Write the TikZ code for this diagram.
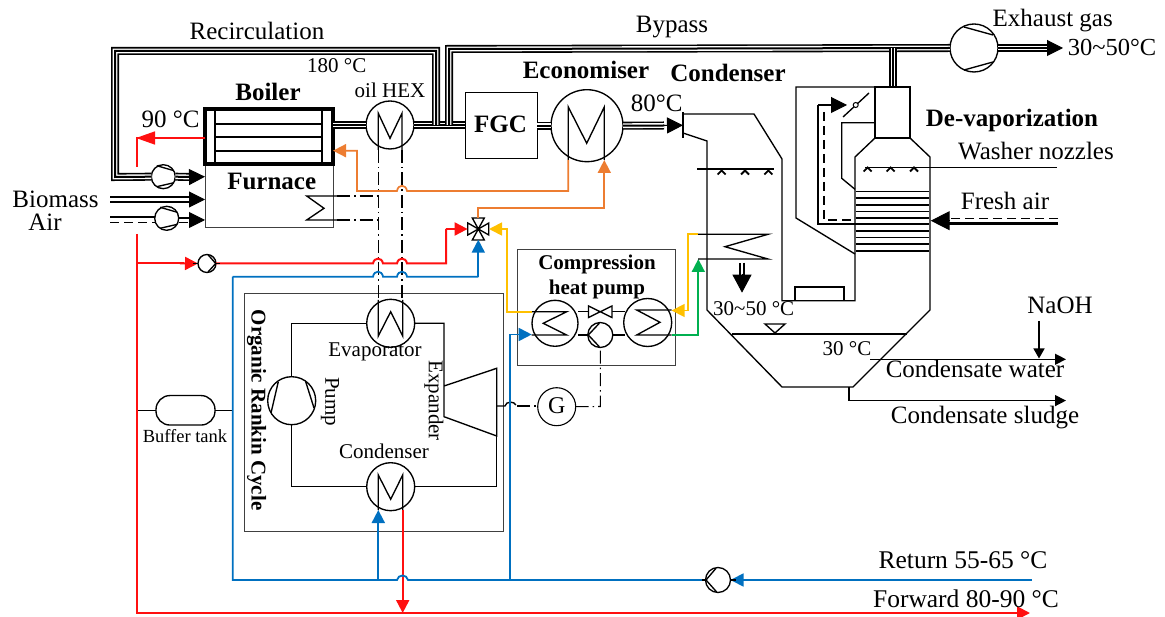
\documentclass[tikz,border=0pt]{standalone}
\usepackage{fontspec}
\setmainfont{Liberation Serif}
\usetikzlibrary{arrows.meta}
\definecolor{cred}{HTML}{FF1010}
\definecolor{cblue}{HTML}{0070C0}
\definecolor{corange}{HTML}{ED7D31}
\definecolor{cyellow}{HTML}{FFC000}
\definecolor{cgreen}{HTML}{00B050}
\tikzset{
  every path/.append style={line join=miter},
  thin line/.style={line width=1.35pt,black},
  pipe/.style={line width=8pt,black,postaction={draw=white,line width=4.8pt},postaction={draw=black,line width=2pt}},
  twin/.style={line width=6.4pt,black,postaction={draw=white,line width=2.4pt}},
  bh/.style={line width=1pt,black,-{Triangle[length=16pt,width=16pt]}},
  redp/.style={line width=2pt,cred},
  redl/.style={redp,-{Triangle[length=13pt,width=13pt]}},
  bluel/.style={line width=1.8pt,cblue,-{Triangle[length=13pt,width=13pt]}},
  orangel/.style={line width=1.7pt,corange,-{Triangle[length=13pt,width=13pt]}},
  yellowl/.style={line width=1.7pt,cyellow,-{Triangle[length=13pt,width=13pt]}},
  greenl/.style={line width=1.7pt,cgreen,-{Triangle[length=13pt,width=13pt]}},
  dd/.style={line width=1.1pt,black,dash pattern=on 13pt off 4pt on 1.5pt off 4pt},
  dsh/.style={line width=1.3pt,black,dash pattern=on 9pt off 5pt},
  equip/.style={circle,draw,line width=1.35pt,fill=white,inner sep=0pt,outer sep=0pt},
  hexlg/.style={equip,minimum size=48pt},
  boxn/.style={draw,line width=1.1pt,inner sep=0pt,outer sep=0pt,anchor=north west},
  lab/.style={inner sep=0pt,font=\fontsize{25}{27}\selectfont},
  labb/.style={inner sep=0pt,font=\fontsize{25}{27}\selectfont\bfseries},
  labs/.style={inner sep=0pt,font=\fontsize{21}{23}\selectfont},
  labsb/.style={inner sep=0pt,font=\fontsize{21}{25}\selectfont\bfseries,align=center},
}
\begin{document}
\begin{tikzpicture}[x=1pt,y=-1pt]
\useasboundingbox (0,0) rectangle (1165,617);
% ---- equipment nodes
\node[boxn,draw=black!75,line width=1pt,minimum width=128pt,minimum height=64pt] (furnace) at (205,164) {};
\node[boxn,line width=3.4pt,minimum width=128pt,minimum height=55pt] (boiler) at (205,109) {};
\node[hexlg] (oil) at (390,125) {};
\node[boxn,line width=1pt,minimum width=72pt,minimum height=66pt] (fgc) at (465,92.5) {};
\node[equip,minimum size=72pt] (econ) at (587,125.7) {};
\node[equip,minimum size=48pt] (fan) at (974,48) {};
\node[equip,minimum size=24pt] (p1) at (163.3,176.7) {};
\node[equip,minimum size=24pt] (p2) at (166.7,218.3) {};
\node[equip,minimum size=18pt] (p3) at (207,263.5) {};
\node[equip,minimum size=25pt] (p4) at (718,580) {};
\node[boxn,draw=black!75,line width=1pt,minimum width=259pt,minimum height=237pt] (orc) at (244.3,294) {};
\node[boxn,draw=black!75,line width=1pt,minimum width=158pt,minimum height=116pt] (chp) at (517.3,249.3) {};
\node[hexlg] (evap) at (390.7,323.3) {};
\node[hexlg] (ocond) at (390.7,486.7) {};
\node[hexlg] (opump) at (291.7,400.7) {};
\node[equip,minimum size=46pt] (hl) at (555,323.3) {};
\node[equip,minimum size=48pt] (hr) at (647.7,322.5) {};
\node[equip,minimum size=25pt] (comp) at (600.3,335) {};
\node[equip,line width=1.1pt,minimum size=38pt] (gen) at (556.7,406.7) {};
\node[draw,line width=1.35pt,rounded corners=14pt,minimum width=59pt,minimum height=29.5pt,inner sep=0pt,outer sep=0pt] (tank) at (185.5,410.3) {};
\node[inner sep=0pt,minimum size=21pt] (valve) at (478.3,229) {};
% ---- named free ends
\coordinate (bypassTop) at (449,49);
\coordinate (stackTop) at (893,87);
\coordinate (stackJ) at (893,48);
\coordinate (condIn) at (683,125.3);
\coordinate (redL) at (136.7,263);
\coordinate (redB) at (136.7,613);
\coordinate (blueL) at (232.7,276.7);
\coordinate (retEnd) at (1032,580);
\coordinate (fwdEnd) at (1030,613);
\coordinate (fan2) at (1063,48);
% ---- flue gas pipes
\draw[pipe] (boiler.east|-oil) -- (oil.west);
\draw[pipe] (oil.east) -- (fgc.west|-oil);
\draw[pipe] (fgc.east|-econ) -- (econ.west);
\draw[pipe] (449,125) -- (bypassTop) -- (fan.west);
\draw[pipe] (stackTop) -- (stackJ);
\draw[pipe] (436,125) -- (436,51) -- (115,51) -- (115,177) -- (p1.west);
\draw[pipe] (p1.east) -- (191,177);
\draw[bh] (190,177) -- (furnace.west|-p1);
\draw[pipe] (econ.east) -- (664,125.5);
\draw[bh] (663,125.5) -- (condIn);
\draw[pipe] (fan.east) -- (1047,48);
\draw[bh] (1046,48) -- (fan2);
% biomass, air
\coordinate (bio) at (110,199.5);
\draw[twin] (bio) -- (192,199.5);
\draw[bh] (191,199.5) -- (furnace.west|-bio);
\coordinate (air) at (110,217.5);
\draw[line width=2pt] (air) -- (p2.west|-air);
\draw[dsh] (110,222.7) -- (155,222.7);
\draw[line width=2pt] (178.5,218) -- (192,218);
\draw[dsh] (178.5,222.5) -- (192,222.5);
\draw[bh] (190,220) -- (205,220);
% ---- boiler interior
\draw[thin line,line width=2.4pt] (215,109) -- (215,164) (322,109) -- (322,164);
\draw[thin line,line width=2pt] (215,124) -- (322,124) (215,137) -- (322,137) (215,151) -- (322,151);
% furnace coil
\draw[thin line] (337,196) -- (306.7,196) -- (324,208.3) -- (306.7,220) -- (337,220);
\draw[dd] (337,196) -- (378.3,196);
\draw[dd] (337,220) -- (378.3,220);
% oil HEX
\draw[thin line] (378.3,150) -- (378.3,113.3) -- (390,138.3) -- (402,113.3) -- (402,150);
\draw[dd] (378.3,150) -- (378.3,300);
\draw[dd] (402,150) -- (402,300);
% economiser
\draw[thin line] (568.3,160) -- (568.3,107) -- (586.7,143.3) -- (604.3,107) -- (604.3,160);
% evaporator, ORC condenser
\draw[thin line] (378.3,300) -- (378.3,336) -- (390.7,311.7) -- (402.7,336) -- (402.7,300);
\draw[thin line] (378.3,510) -- (378.3,475) -- (390.7,499.3) -- (402.7,475) -- (402.7,510);
% ORC loop
\draw[thin line] (evap.west) -- (291.7,323.3) -- (opump.north);
\draw[thin line] (opump.south) -- (291.7,486.7) -- (ocond.west);
\draw[thin line] (evap.east) -- (444,323.3) -- (444,386) -- (496.7,368.3) -- (496.7,436) -- (444,416.7) -- (444,386);
\draw[thin line] (496.7,436) -- (496.7,486.7) -- (ocond.east);
\draw[thin line] (278.3,381.7) -- (271,413) (305.7,381.7) -- (314,408);
% pump blades
\draw[thin line] (p1) ++(-6.6,-11) -- ++(17.3,5) (p1) ++(-6.6,10) -- ++(17.3,-4);
\draw[thin line] (p2) ++(-6.6,-11) -- ++(17.3,5) (p2) ++(-6.6,10) -- ++(17.3,-4);
\draw[thin line] (fan) ++(-10,-21) -- ++(29,8) (fan) ++(-10,22) -- ++(29,-8);
\draw[thin line] (208,254.7) -- (215.7,263.5) -- (208,272);
\draw[thin line] (716,568.3) -- (706,580) -- (716.7,592);
\draw[thin line] (599.3,323.3) -- (588.3,335) -- (599.3,346.7);
% buffer tank
\draw[thin line] (redL|-tank) -- (tank.west);
\draw[thin line] (tank.east) -- (blueL|-tank);
% ---- CHP internals
\draw[thin line] (531.7,311.7) -- (566.7,311.7) -- (543.3,323.3) -- (566.7,335) -- (531.7,335);
\draw[thin line] (671.7,310) -- (636.7,310) -- (660,322.3) -- (636.7,335) -- (671.7,335);
\draw[thin line] (578,311.7) -- (588.5,311.7) (612,311.7) -- (625,311.7);
\draw[thin line] (578,335) -- (comp.west);
\draw[thin line] (comp.east) -- (625,335);
\draw[thin line,fill=white] (588.5,306) -- (612,317.5) -- (612,306) -- (588.5,317.5) -- cycle;
% G line
\draw[dd] (517,406) -- (537,406) ;
\draw[dd] (gen.east) -- (600.3,406.5) -- (comp.south);
\draw[thin line] (496.7,406) -- (505,406) .. controls (506,401) and (514,401) .. (516,405);
% ---- valve
\draw[thin line,fill=white] (valve.center) -- ++(-10.5,-6) -- ++(0,12) -- cycle;
\draw[thin line,fill=white] (valve.center) -- ++(10.5,-6) -- ++(0,12) -- cycle;
\draw[thin line,fill=white] (valve.center) -- ++(-6,-11) -- ++(12,0) -- cycle;
\draw[thin line,fill=white] (valve.center) -- ++(-6,11) -- ++(12,0) -- cycle;
% ---- coloured loops
\draw[redp] (136.7,137.5) -- (136.7,167);
\draw[line width=1.5pt,cred,-{Triangle[length=19pt,width=13pt]}] (boiler.west|-0,138) -- (136,138);
\draw[redp] (136.7,234) -- (redB) -- (1012,613);
\draw[redp] (redL) -- (182,263) -- (182,263.4) -- (184,263.4);
\draw[redl] (180,263.4) -- (p3.west);
\draw[redp] (p3.east) -- (373,263.5) .. controls (374,257) and (382,257) .. (383,263.5) -- (397,263.5) .. controls (398,257) and (406,257) .. (407,263.5) -- (446,263.5) -- (446,229);
\draw[redl] (446,229) -- (valve.west);
\draw[redl] (1010,613) -- (fwdEnd);
\draw[redl] (402.7,510) -- (402.7,613);
\draw[bluel] (valve.south|-0,276.7) -- (valve.south);
\draw[line width=1.8pt,cblue] (blueL) -- (373,276.7) .. controls (374,270) and (382,270) .. (383,276.7) -- (397,276.7) .. controls (398,270) and (406,270) .. (407,276.7) -- (478.3,276.7);
\draw[line width=1.8pt,cblue] (blueL) -- (232.7,580) -- (397,580) .. controls (398,574) and (407,574) .. (408,580) -- (p4.west);
\draw[bluel] (retEnd) -- (p4.east);
\draw[bluel] (378.3,580) -- (378.3,510);
\draw[bluel] (510,580) -- (510,334.5) -- (531.7,334.5);
\draw[orangel] (568.3,160) -- (568.3,191) -- (407,191) .. controls (406,184) and (398,184) .. (397,191) -- (357,191) -- (357,150.7) -- (333,150.7);
\draw[orangel] (478.3,217.7) -- (478.3,207.7) -- (604.3,207.7) -- (604.3,160);
\draw[yellowl] (531.7,311.7) -- (507.3,311.7) -- (507.3,229) -- (valve.east);
\draw[yellowl] (698,234.3) -- (688.3,234.3) -- (688.3,310.5) -- (671.7,310.5);
\draw[greenl] (671.7,335) -- (698.3,335) -- (698.3,259);
% black pump stubs
\draw[thin line] (193,263.5) -- (p3.west) (p3.east) -- (220,263.5);
\draw[thin line] (p4.west) -- ++(-4,0) (p4.east) -- ++(5,0);
% ---- condenser / de-vaporizer vessel
\draw[thin line] (683,112) -- (683,138);
\draw[thin line] (683,114) -- (754,114) -- (782,159) -- (782,300.7) -- (855,300.7) -- (855,157) -- (875,138) -- (910,138) -- (930,157) -- (930,310) -- (853,387) -- (782,387) -- (707,310) -- (707,141) -- (683,133);
\draw[thin line] (795,287) rectangle (844,300.7);
\node[draw,line width=1.35pt,inner sep=0pt,outer sep=0pt,minimum width=35pt,minimum height=51pt,anchor=north west] (stack) at (875,87) {};
\draw[thin line] (stack.west|-0,87) -- (796,87) -- (796,218) -- (855,254);
\draw[thin line] (875,122.7) -- (841.7,122.7) -- (841.7,178.3) -- (855,189.3);
\draw[thin line] (843,117) -- (869,93);
\node[equip,minimum size=5pt,line width=1pt] (damper) at (855.7,105) {};
\draw[line width=2pt] (818.3,105) -- (818.3,224) -- (855.7,224);
\draw[dsh] (824,112) -- (824,220) -- (855.7,220);
\draw[line width=1.2pt] (818,105) -- (832,105);
\draw[bh] (830,105) -- (847,105);
\foreach \yy in {191.7,198.3,205,211.7,218,224.3,231,237.7,244.3,251}
  \draw[line width=1.6pt] (855.7,\yy) -- (929.3,\yy);
\draw[thin line] (865,167.3) -- (1057,167.3);
\foreach \xx in {867.7,890.7,914}
  \draw[line width=1.8pt] (\xx-4,171.5) -- (\xx,167.5) -- (\xx+4,171.5);
\draw[thin line] (697,169) -- (774,169);
\foreach \xx in {721.7,745,768.3}
  \draw[line width=1.8pt] (\xx-4,174.5) -- (\xx,170.5) -- (\xx+4,174.5);
\coordinate (faEnd) at (949,220.7);
\draw[line width=2.6pt] (1058,223.3) -- (faEnd|-0,223.3);
\draw[dsh] (1058,218.3) -- (faEnd|-0,218.3);
\draw[line width=1pt,black,-{Triangle[length=19pt,width=19pt]}] (faEnd) -- (930.7,220.7);
\draw[thin line] (698,234.3) -- (768,234.3) -- (725,246.7) -- (768,259) -- (698,259);
\draw[line width=5.5pt,black,postaction={draw=white,line width=2.2pt}] (742,262.7) -- (742,276);
\draw[line width=1pt,black,-{Triangle[length=18pt,width=19pt]}] (742,274) -- (742,292.7);
\draw[thin line] (732,334) -- (907,334);
\draw[thin line] (765,324) -- (785,324) -- (775,333) -- cycle;
\coordinate (cwEnd) at (1066,359.3);
\coordinate (csEnd) at (1066,400.6);
\coordinate (naoh) at (1039,321);
\draw[thin line,-{Triangle[length=11pt,width=11pt]}] (870,359.3) -- (cwEnd);
\draw[thin line,-{Triangle[length=11pt,width=11pt]}] (849,387) -- (849,400.6) -- (csEnd);
\draw[thin line,-{Triangle[length=10pt,width=11pt]}] (naoh) -- (1039,358.5);
% ---- labels
\node[lab] (l1) at (257,31) {Recirculation};
\node[lab] (l2) at (672,27) {Bypass};
\node[lab] (l3) at (1052.7,21) {Exhaust gas};
\node[lab,font=\fontsize{24.5}{26}\selectfont] (l4) at (1112,47.5) {30\textasciitilde50°C};
\node[lab,font=\fontsize{21}{23}\selectfont] (l5) at (336.7,66) {180 °C};
\node[lab,font=\fontsize{21}{23}\selectfont] (l6) at (390,90.5) {oil HEX};
\node[labb] (l7) at (268,92) {Boiler};
\node[lab] (l8) at (170.7,119) {90 °C};
\node[labb] (l9) at (271.7,181) {Furnace};
\node[labb] (l10) at (586,70) {Economiser};
\node[labb] (l11) at (728,73) {Condenser};
\node[labb] (l12) at (500.5,124) {FGC};
\node[lab] (l13) at (656.7,103) {80°C};
\node[labb] (l14) at (1012,120) {De-vaporization};
\node[lab] (l15) at (1036,151) {Washer nozzles};
\node[lab] (l16) at (1005,201) {Fresh air};
\node[lab] (l17) at (55.5,199) {Biomass};
\node[lab] (l18) at (45,222) {Air};
\node[labsb] (l19) at (597,277) {Compression\\heat pump};
\node[labs] (l20) at (753.7,309) {30\textasciitilde50 °C};
\node[labs] (l21) at (847,349) {30 °C};
\node[lab] (l22) at (1060,305) {NaOH};
\node[lab] (l23) at (975,369) {Condensate water};
\node[lab] (l24) at (985,418) {Condensate sludge};
\node[inner sep=0pt,font=\fontsize{18.5}{20}\selectfont] (l25) at (185,436) {Buffer tank};
\node[labsb,rotate=-90] (l26) at (256.7,410) {Organic Rankin Cycle};
\node[labs,rotate=-90] (l27) at (330,401.7) {Pump};
\node[labs,rotate=-90] (l28) at (434,400.7) {Expander};
\node[labs] (l29) at (375,351.7) {Evaporator};
\node[labs] (l30) at (384,451) {Condenser};
\node[inner sep=0pt,font=\fontsize{24}{26}\selectfont] (l31) at (556.7,406) {G};
\node[lab,font=\fontsize{25.5}{27}\selectfont] (l32) at (963,560) {Return 55-65 °C};
\node[lab,font=\fontsize{25.5}{27}\selectfont] (l33) at (966,599) {Forward 80-90 °C};
\end{tikzpicture}
\end{document}
